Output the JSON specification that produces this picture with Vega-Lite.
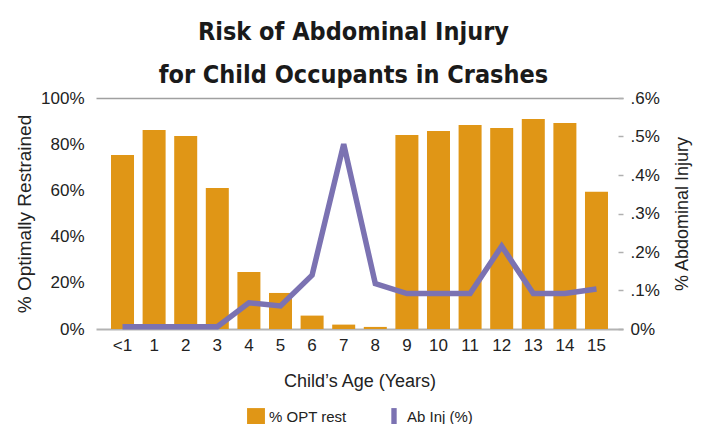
{
  "$schema": "https://vega.github.io/schema/vega-lite/v6.json",
  "width": 527,
  "height": 231,
  "padding": {"left": 15, "top": 20, "right": 10, "bottom": 0},
  "background": "white",
  "title": {
    "text": ["Risk of Abdominal Injury", "for Child Occupants in Crashes"],
    "font": "DejaVu Sans Condensed, Roboto, sans-serif",
    "fontWeight": "bold",
    "fontSize": 25,
    "lineHeight": 43,
    "color": "#1a1a1a",
    "anchor": "middle",
    "frame": "bounds",
    "offset": 1
  },
  "data": {
    "values": [
      {"age": "<1", "opt": 75.3, "inj": 0.006},
      {"age": "1", "opt": 86.1, "inj": 0.006},
      {"age": "2", "opt": 83.5, "inj": 0.006},
      {"age": "3", "opt": 61.0, "inj": 0.006},
      {"age": "4", "opt": 24.7, "inj": 0.068},
      {"age": "5", "opt": 15.6, "inj": 0.060},
      {"age": "6", "opt": 5.8, "inj": 0.140},
      {"age": "7", "opt": 1.9, "inj": 0.48},
      {"age": "8", "opt": 0.9, "inj": 0.118},
      {"age": "9", "opt": 84.0, "inj": 0.092},
      {"age": "10", "opt": 85.7, "inj": 0.092},
      {"age": "11", "opt": 88.3, "inj": 0.092},
      {"age": "12", "opt": 87.0, "inj": 0.215},
      {"age": "13", "opt": 90.9, "inj": 0.092},
      {"age": "14", "opt": 89.2, "inj": 0.092},
      {"age": "15", "opt": 59.4, "inj": 0.104}
    ]
  },
  "encoding": {
    "x": {
      "field": "age",
      "type": "nominal",
      "sort": null,
      "scale": {"paddingInner": 0.272, "paddingOuter": 0.475},
      "axis": {
        "title": "Child’s Age (Years)",
        "labelAngle": 0,
        "labelFont": "Liberation Sans",
        "labelFontSize": 17,
        "labelColor": "#222222",
        "labelPadding": 8,
        "ticks": false,
        "domainColor": "#b3b3b3",
        "domainWidth": 2,
        "titleFont": "Liberation Sans",
        "titleFontSize": 18,
        "titleFontWeight": "normal",
        "titleColor": "#222222",
        "titlePadding": 19
      }
    }
  },
  "layer": [
    {
      "mark": {"type": "bar"},
      "encoding": {
        "y": {
          "field": "opt",
          "type": "quantitative",
          "scale": {"domain": [0, 100], "nice": false},
          "axis": {
            "title": "% Optimally Restrained",
            "values": [0, 20, 40, 60, 80, 100],
            "labelExpr": "datum.value + '%'",
            "labelFont": "Liberation Sans",
            "labelFontSize": 17,
            "labelColor": "#222222",
            "labelPadding": 12,
            "ticks": false,
            "domain": false,
            "grid": true,
            "gridColor": {"condition": {"test": "datum.value === 100", "value": "#a0a0a0"}, "value": "transparent"},
            "gridWidth": 1.5,
            "titleFont": "Liberation Sans",
            "titleFontSize": 19,
            "titleFontWeight": "normal",
            "titleColor": "#222222",
            "titlePadding": 6
          }
        },
        "color": {
          "datum": "% OPT rest",
          "scale": {"domain": ["% OPT rest", "Ab Inj (%)"], "range": ["#E09616", "#7B72B2"]},
          "legend": {
            "title": null,
            "orient": "bottom",
            "direction": "horizontal",
            "labelFont": "Liberation Sans",
            "labelFontSize": 15,
            "labelColor": "#222222",
            "symbolSize": 320,
            "symbolType": "square",
            "symbolStrokeWidth": 0,
            "columnPadding": 38,
            "labelOffset": 4,
            "offset": 18,
            "encode": {
              "symbols": {
                "update": {
                  "shape": {"signal": "datum.value === 'Ab Inj (%)' ? 'M-0.3,-1H0.3V1H-0.3Z' : 'square'"},
                  "fill": {"signal": "datum.value === 'Ab Inj (%)' ? '#7B72B2' : '#E09616'"},
                  "fillOpacity": {"value": 1},
                  "stroke": {"value": "transparent"}
                }
              }
            }
          }
        }
      }
    },
    {
      "mark": {"type": "line", "strokeWidth": 5.5, "strokeJoin": "miter"},
      "encoding": {
        "y": {
          "field": "inj",
          "type": "quantitative",
          "scale": {"domain": [0, 0.6], "nice": false},
          "axis": {
            "orient": "right",
            "title": "% Abdominal Injury",
            "titleAngle": 270,
            "titleBaseline": "top",
            "values": [0, 0.1, 0.2, 0.3, 0.4, 0.5, 0.6],
            "labelExpr": "datum.value == 0 ? '0%' : '.' + round(datum.value * 10) + '%'",
            "labelFont": "Liberation Sans",
            "labelFontSize": 17,
            "labelColor": "#222222",
            "tickSize": -5,
            "tickColor": "#b0b0b0",
            "tickWidth": 1.5,
            "labelPadding": 12,
            "domain": false,
            "grid": false,
            "titleFont": "Liberation Sans",
            "titleFontSize": 18,
            "titleFontWeight": "normal",
            "titleColor": "#222222",
            "titlePadding": 14
          }
        },
        "color": {"datum": "Ab Inj (%)"}
      }
    }
  ],
  "resolve": {"scale": {"y": "independent"}},
  "config": {
    "view": {"stroke": null},
    "legend": {"layout": {"bottom": {"anchor": "middle"}}}
  }
}
